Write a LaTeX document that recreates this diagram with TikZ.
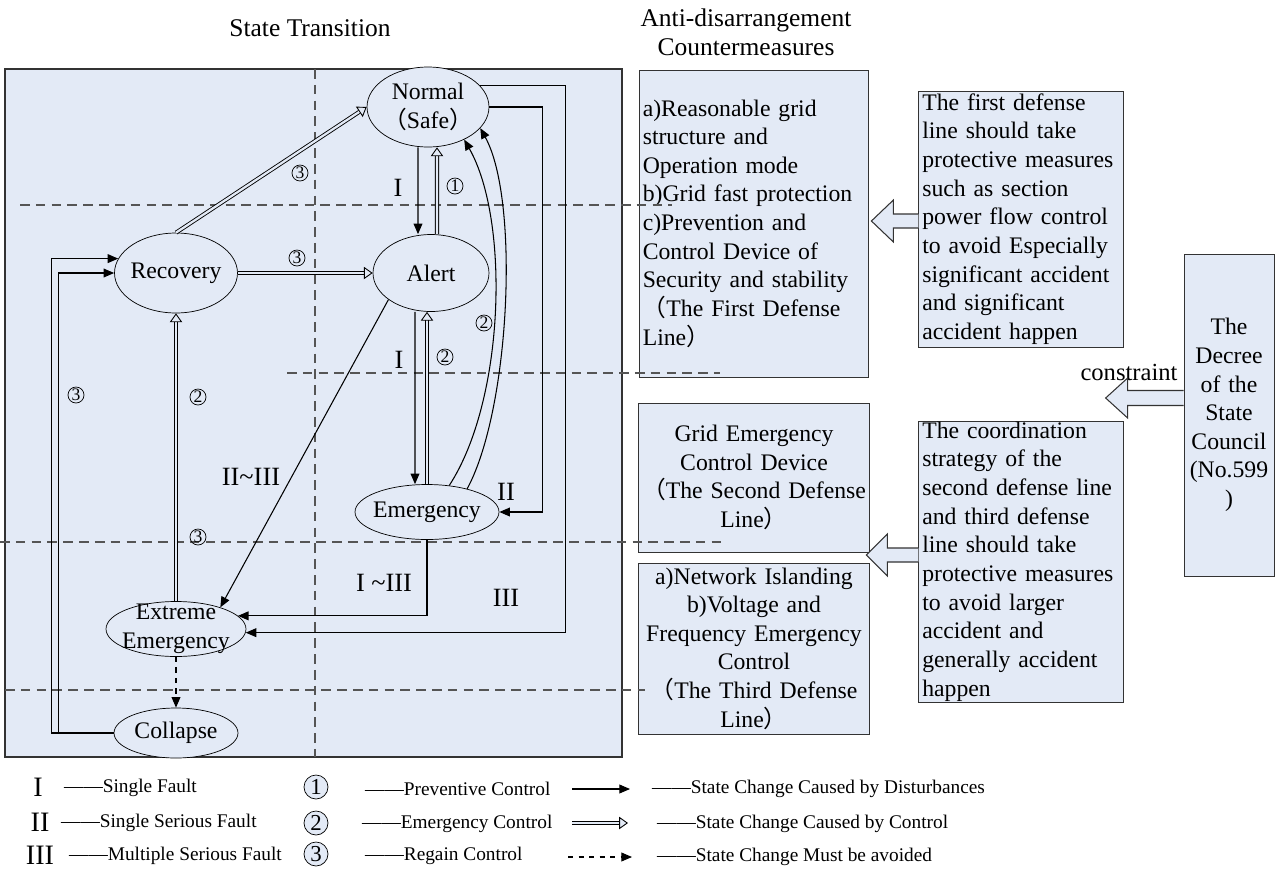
\documentclass[tikz,border=0pt]{standalone}
\usepackage{fontspec}
\setmainfont{Liberation Serif}
\newfontfamily\cjk{Noto Sans CJK SC}
\usetikzlibrary{arrows.meta,shapes.geometric}
\definecolor{panelblue}{RGB}{227,234,246}
\definecolor{zonegray}{RGB}{85,85,85}
\newcommand{\fwl}{{\cjk （}}
\newcommand{\fwr}{{\cjk ）}}
\newcommand{\bodyfont}{\fontsize{13.5}{16.3}\selectfont\hyphenpenalty=10000}
\newcommand{\titlefont}{\fontsize{14.5}{16.5}\selectfont}
\newcommand{\legendfont}{\fontsize{11}{12}\selectfont}
\begin{document}
\begin{tikzpicture}[x=0.02cm, y=-0.02cm,
  state/.style={draw, ellipse, fill=panelblue, align=center, inner xsep=-0.3cm, inner ysep=-0.2cm, font=\bodyfont},
  infobox/.style={draw=black!80, fill=panelblue, font=\bodyfont, inner xsep=2pt, inner ysep=0pt},
  ctrlnum/.style={draw, circle, inner sep=0pt, minimum size=0.32cm, font=\fontsize{10}{10}\selectfont},
  legendnum/.style={draw, circle, fill=panelblue, inner sep=0pt, minimum size=0.48cm, font=\fontsize{13}{13}\selectfont},
  fault/.style={font=\fontsize{15}{15}\selectfont},
  legend/.style={font=\legendfont, anchor=west},
  dist/.style={draw, line width=0.6pt, -{Triangle[length=6pt,width=5pt]}},
  ctrl/.style={draw, line width=0.5pt, double=panelblue, double distance=1.3pt, -{Triangle[open, length=5pt, width=7pt, fill=panelblue, line width=0.5pt]}},
  avoid/.style={draw, line width=0.6pt, dashed, -{Triangle[length=6pt,width=5pt]}},
  zone/.style={draw=zonegray, line width=0.8pt, dash pattern=on 5.5pt off 3.5pt},
  blockarrow/.style={draw=black!80, fill=panelblue, line width=0.6pt}]

\useasboundingbox (0,0) rectangle (1276,870);

\node[font=\titlefont] (title1) at (310,28) {State Transition};
\node[font=\titlefont, align=center] (title2) at (746,32) {Anti-disarrangement\\Countermeasures};

\draw[draw=black!80, fill=panelblue, line width=0.6pt] (5,69) rectangle (622,757);

\node[infobox, align=left, text width=4.45cm, minimum height=6.14cm] (firstline) at (754,223.5) {a)Reasonable grid\\structure and\\Operation mode\\b)Grid fast protection\\c)Prevention and\\Control Device of\\Security and stability\\\fwl The First Defense\\Line\fwr};
\node[infobox, align=left, text width=3.95cm, minimum height=5.12cm] (firstrule) at (1021,219) {The first defense\\line should take\\protective measures\\such as section\\power flow control\\to avoid Especially\\significant accident\\and significant\\accident happen};
\node[infobox, align=center, text width=4.6cm, inner xsep=0.3pt, minimum height=2.98cm] (secondline) at (754,477.5) {Grid Emergency\\Control Device\\\fwl The Second Defense\\Line\fwr};
\node[infobox, align=center, text width=4.6cm, inner xsep=0.3pt, minimum height=3.42cm] (thirdline) at (754,648.5) {a)Network Islanding\\b)Voltage and\\Frequency Emergency\\Control\\\fwl The Third Defense\\Line\fwr};
\node[infobox, align=left, text width=3.95cm, minimum height=5.62cm] (coordrule) at (1021,561.5) {The coordination\\strategy of the\\second defense line\\and third defense\\line should take\\protective measures\\to avoid larger\\accident and\\generally accident\\happen};
\node[infobox, align=center, text width=1.66cm, minimum height=6.44cm] (decree) at (1229,415) {The\\Decree\\of the\\State\\Council\\(No.599\\)};
\node[font=\fontsize{14}{14}\selectfont] (constr) at (1129,372) {constraint};

\path[blockarrow] (firstrule.west) ++(0,-5) -- ++(-25,0) -- ++(0,-14) -- ++(-22,21) -- ++(22,21) -- ++(0,-14) -- ++(25,0);
\path[blockarrow] (coordrule.west) ++(0,-13.5) -- ++(-31,0) -- ++(0,-14) -- ++(-21,21) -- ++(21,21) -- ++(0,-14) -- ++(31,0);
\path[blockarrow] (decree.west) ++(0,-24.5) -- ++(-56,0) -- ++(0,-12.5) -- ++(-22,20) -- ++(22,20) -- ++(0,-12.5) -- ++(56,0);

\draw[zone] (315,69) -- (315,757);
\draw[zone] (20,205) -- (672,205);
\draw[zone] (287,373) -- (720,373);
\draw[zone] (0,542) -- (722,542);
\draw[zone] (5,690) -- (645,690);

\node[state, minimum width=2.44cm, minimum height=1.6cm] (normal) at (428,107) {Normal\\\fwl Safe\fwr};
\node[state, minimum width=2.32cm, minimum height=1.54cm] (alert) at (431,273) {Alert};
\node[state, minimum width=2.46cm, minimum height=1.6cm] (recovery) at (176,273) {Recovery};
\node[state, minimum width=2.88cm, minimum height=1.1cm] (emergency) at (427,512) {Emergency};
\node[state, minimum width=2.8cm, minimum height=1.1cm] (extreme) at (176,629) {Extreme\\Emergency};
\node[state, minimum width=2.48cm, minimum height=1.0cm] (collapse) at (176,733) {Collapse};

\path[dist] ([xshift=-0.2cm]normal.south) -- ([xshift=-0.26cm]alert.north);
\path[ctrl] ([xshift=0.12cm]alert.north) -- ([xshift=0.18cm]normal.south);
\path[ctrl] (recovery.north) -- (normal.west);
\path[ctrl] (recovery.east) -- (alert.west);
\path[dist] (emergency.50) .. controls (505,400) and (510,220) .. (normal.-42);
\path[dist] (emergency.30) .. controls (510,410) and (520,200) .. (normal.-22);
\path[dist] ([xshift=-0.32cm]alert.south) -- ([xshift=-0.24cm]emergency.north);
\path[ctrl] (emergency.north) -- (emergency.north |- alert.south);
\path[dist] (alert.212) -- (extreme.26);
\path[dist] (emergency.south) |- (extreme.12);
\path[dist] (normal.23) -- ++(86,0) |- (extreme.-3);
\path[dist] (normal.east) -- ++(53,0) |- (emergency.east);
\path[ctrl] (extreme.north) -- (recovery.south);
\path[avoid] (extreme.south) -- (collapse.north);
\path[dist] (collapse.west) -- ++(-62,0) |- (recovery.166);
\path[dist] (collapse.west) -- ++(-55,0) |- (recovery.west);

\node[fault] (f1a) at (398,188) {I};
\node[ctrlnum] (c1) at (455,186) {1};
\node[ctrlnum] (c3a) at (300,173) {3};
\node[ctrlnum] (c3b) at (297,258) {3};
\node[ctrlnum] (c2a) at (484,323) {2};
\node[fault] (f1b) at (399,360) {I};
\node[ctrlnum] (c2b) at (445,357) {2};
\node[ctrlnum] (c3c) at (76,395) {3};
\node[ctrlnum] (c2c) at (198,397) {2};
\node[fault] (f23) at (251,477) {II\textasciitilde III};
\node[fault] (f2) at (506,492) {II};
\node[ctrlnum] (c3d) at (198,537) {3};
\node[fault] (f13) at (384,583) {I \textasciitilde III};
\node[fault] (f3) at (506,598) {III};

\node[font=\fontsize{16}{16}\selectfont] (lf1) at (38,787) {I};
\node[legend] (lt1) at (58,788) {——Single Fault};
\node[font=\fontsize{16}{16}\selectfont] (lf2) at (40,822) {II};
\node[legend] (lt2) at (55,823) {——Single Serious Fault};
\node[font=\fontsize{16}{16}\selectfont] (lf3) at (40,855) {III};
\node[legend] (lt3) at (63,856) {——Multiple Serious Fault};
\node[legendnum] (ln1) at (316,787) {1};
\node[legend] (lt4) at (359,789) {——Preventive Control};
\node[legendnum] (ln2) at (316,823) {2};
\node[legend] (lt5) at (356,824) {——Emergency Control};
\node[legendnum] (ln3) at (316,854) {3};
\node[legend] (lt6) at (359,856) {——Regain Control};
\coordinate (ld1) at (572,789);
\coordinate (ld2) at (630,789);
\coordinate (lc1) at (572,823);
\coordinate (lc2) at (628,823);
\coordinate (la1) at (568,857);
\coordinate (la2) at (632,857);
\path[dist] (ld1) -- (ld2);
\path[ctrl] (lc1) -- (lc2);
\path[avoid] (la1) -- (la2);
\node[legend] (lt7) at (646,789) {——State Change Caused by Disturbances};
\node[legend] (lt8) at (651,824) {——State Change Caused by Control};
\node[legend] (lt9) at (651,857) {——State Change Must be avoided};
\end{tikzpicture}
\end{document}
